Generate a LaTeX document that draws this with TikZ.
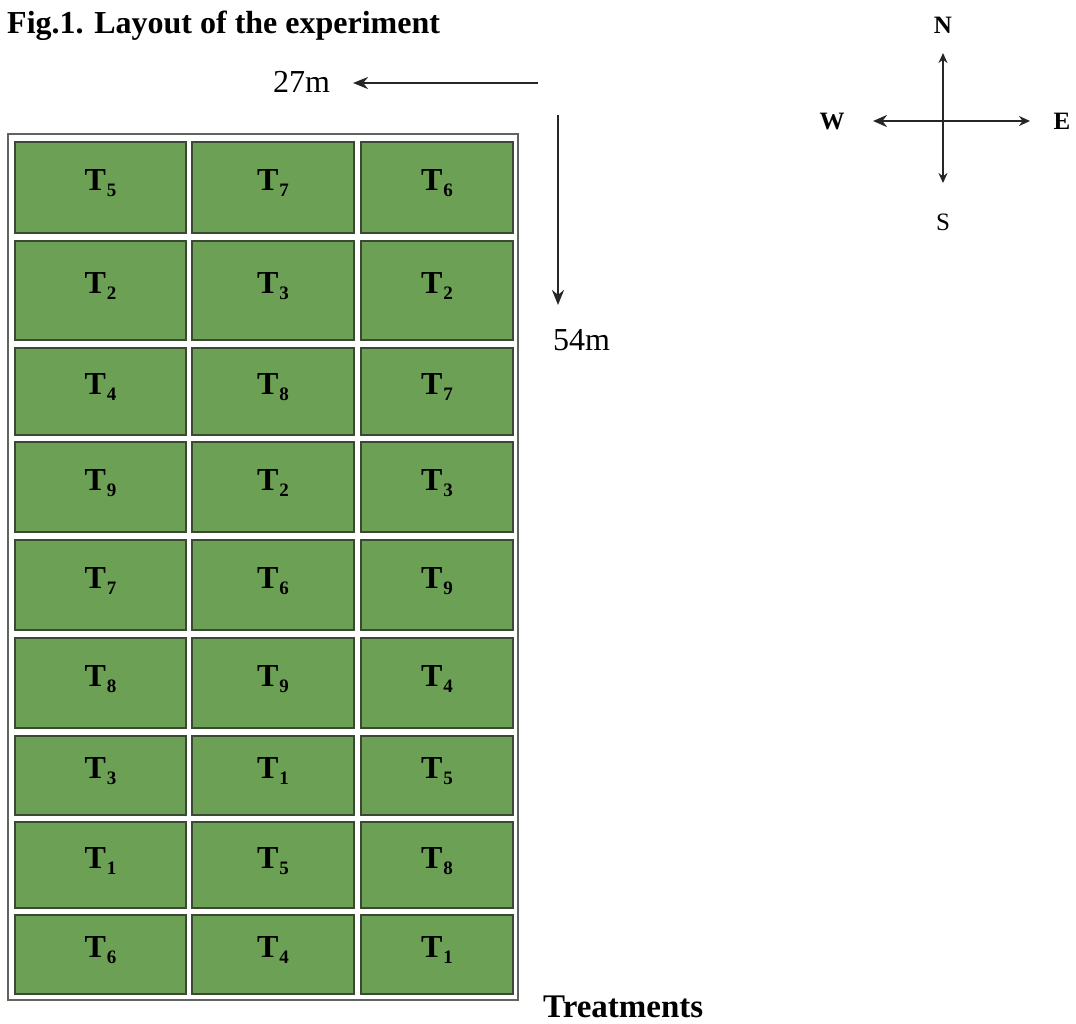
\documentclass[tikz,border=0pt]{standalone}
\usepackage{fontspec}
\setmainfont{Liberation Serif}
\usetikzlibrary{arrows.meta}
\usetikzlibrary{positioning}

\definecolor{plotgreen}{RGB}{108,160,84}
\definecolor{plotedge}{RGB}{58,72,52}
\definecolor{fieldedge}{RGB}{95,100,95}

\newcommand{\trt}[1]{T\kern1pt\raisebox{-6pt}{\fontsize{19}{19}\selectfont #1}}

\begin{document}
\begin{tikzpicture}[x=1pt, y=-1pt,
    plot/.style={draw=plotedge, line width=2.5pt, fill=plotgreen, inner sep=0pt},
    field/.style={draw=fieldedge, line width=1.5pt, inner sep=0pt},
    treat/.style={font=\fontsize{32}{32}\selectfont\bfseries, inner sep=0pt, anchor=base},
    txt/.style={font=\fontsize{32}{36}\selectfont, inner sep=0pt, anchor=base west},
    pole/.style={font=\fontsize{25}{28}\selectfont\bfseries, inner sep=0pt, anchor=base},
    dim/.style={line width=2.5pt, draw=black!85, -{Stealth[length=15pt, width=12pt]}},
    compass/.style={line width=2.5pt, draw=black!85, {Stealth[length=10pt, width=9pt]}-{Stealth[length=10pt, width=9pt]}}]

      \useasboundingbox (0,0) rectangle (1076,1023);

      \node[txt, font=\fontsize{32}{36}\selectfont\bfseries] (title) at (7,33) {Fig.1. Layout of the experiment};

      % the field and its plots
      \node[field, minimum width=510pt, minimum height=866pt] (field) at (263,567) {};

      \foreach \r/\ya/\yb/\la/\lb/\lc in {1/142/233/5/7/6, 2/241/340/2/3/2, 3/348/435/4/8/7,
          4/442/532/9/2/3, 5/540/630/7/6/9, 6/638/728/8/9/4, 7/736/815/3/1/5,
          8/822/908/1/5/8, 9/915/994/6/4/1} {
        \pgfmathsetmacro\cy{(\ya+\yb)/2}
        \pgfmathsetmacro\ph{\yb-\ya}
        \foreach \k/\lab/\xa/\xb in {1/\la/15/186, 2/\lb/192/354, 3/\lc/361/513} {
          \pgfmathsetmacro\cx{(\xa+\xb)/2}
          \pgfmathsetmacro\pw{\xb-\xa}
          \node[plot, minimum width=\pw pt, minimum height=\ph pt] (p\r\k) at (\cx,\cy) {};
          \node[treat] (t\r\k) at ([yshift=-3pt]p\r\k.center) {\trt{\lab}};
        }
      }

      % dimensions
      \node[txt] (wdlab) at (273,92) {27m};
      \coordinate (wd0) at (538,83);
      \coordinate (wd1) at (353,83);
      \draw[dim] (wd0) -- (wd1);

      \coordinate (ht0) at (558,115);
      \coordinate (ht1) at (558,305);
      \draw[dim] (ht0) -- (ht1);
      \node[txt] (htlab) at (553,350) {54m};

      \node[txt, font=\fontsize{33}{36}\selectfont\bfseries] (treatlab) at (543,1017) {Treatments};

      % compass
      \coordinate (cn) at (943,53);
      \coordinate (cs) at (943,183);
      \coordinate (cw) at (873,121);
      \coordinate (ce) at (1030,121);
      \draw[compass] (cs) -- (cn);
      \draw[compass, {Stealth[length=14pt, width=12pt]}-{Stealth[length=11pt, width=10pt]}] (cw) -- (ce);

      \node[pole] (north) at (943,33) {N};
      \node[pole, font=\fontsize{25}{28}\selectfont] (south) at (943,230) {S};
      \node[pole] (west) at (832,129) {W};
      \node[pole] (east) at (1062,129) {E};
    \end{tikzpicture}
\end{document}
